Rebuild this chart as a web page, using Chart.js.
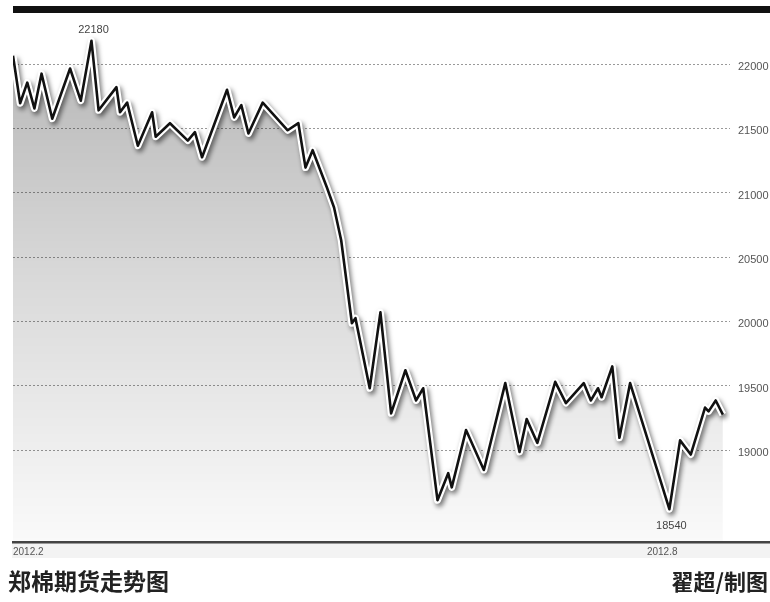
<!DOCTYPE html>
<html>
<head>
<meta charset="utf-8">
<script src="https://cdn.jsdelivr.net/npm/chart.js@4.4.1/dist/chart.umd.min.js"></script>
<style>
  html, body { margin: 0; padding: 0; background: #fff; }
  #wrap { position: relative; width: 770px; height: 602px; overflow: hidden; }
  #chart { position: absolute; left: 0; top: 0; }
  .caption { position: absolute; top: 566px; font-family: "Noto Sans CJK SC", sans-serif; font-weight: 700; color: #222; line-height: 28px; }
</style>
</head>
<body>
<div id="wrap">
  <canvas id="chart" width="770" height="602"></canvas>
  <div class="caption" style="left:8px; font-size:23px">郑棉期货走势图</div>
  <div class="caption" style="right:2px; font-size:22px">翟超/制图</div>
</div>
<script>
// calendar days since 2012-02-01
const days = [0, 2, 4, 6, 8, 11, 16, 19, 22, 24, 29, 30, 32, 35, 39, 40, 44, 49, 51, 53,
  60, 62, 64, 66, 70, 77, 80, 82, 84, 88, 90, 92, 95, 96, 100, 103, 106, 110, 113, 115,
  119, 122, 123, 127, 132, 138, 142, 144, 147, 152, 155, 160, 162, 164, 165, 168, 170, 173, 184, 187,
  190, 194, 195, 197, 199];
const prices = [22065, 21695, 21855, 21655, 21925, 21575, 21965, 21715, 22180, 21640,
  21820, 21625, 21700, 21365, 21625, 21435, 21540, 21405, 21470, 21275,
  21800, 21585, 21680, 21460, 21700, 21485, 21540, 21195, 21330, 21040,
  20885, 20630, 19985, 20025, 19480, 20070, 19285, 19620, 19385, 19480,
  18610, 18820, 18710, 19155, 18845, 19520, 18985, 19240, 19055, 19530,
  19365, 19520, 19385, 19480, 19410, 19650, 19095, 19520, 18540, 19075,
  18965, 19330, 19300, 19385, 19275];
const yTicks = [19000, 19500, 20000, 20500, 21000, 21500, 22000];
const xTickDays = [0, 182];
const xTickLabels = ['2012.2', '2012.8'];

const points = days.map((d, i) => ({ x: d, y: prices[i] }));

const lineShadowPlugin = {
  id: 'lineShadow',
  beforeDatasetDraw(chart, args) {
    const ds = chart.data.datasets[args.index];
    if (!ds.shadow) {
      return;
    }
    const ctx = chart.ctx;
    ctx.save();
    ctx.shadowColor = 'rgba(0, 0, 0, 0.55)';
    ctx.shadowBlur = 5;
    ctx.shadowOffsetX = 2;
    ctx.shadowOffsetY = 3;
  },
  afterDatasetDraw(chart, args) {
    if (chart.data.datasets[args.index].shadow) {
      chart.ctx.restore();
    }
  },
};

const framePlugin = {
  id: 'frame',
  beforeDraw(chart) {
    const ctx = chart.ctx;
    const area = chart.chartArea;
    ctx.save();
    // top black bar
    ctx.fillStyle = '#111';
    ctx.fillRect(area.left, 6, chart.width - area.left, 7);
    // faint band under the axis
    ctx.fillStyle = '#f3f3f3';
    ctx.fillRect(area.left - 1, area.bottom, chart.width - area.left + 1, 16);
    ctx.restore();
  },
  afterDraw(chart) {
    const ctx = chart.ctx;
    const area = chart.chartArea;
    const xScale = chart.scales.x;
    const yScale = chart.scales.y;
    ctx.save();
    // bottom axis line
    ctx.fillStyle = '#444';
    ctx.fillRect(area.left - 1, area.bottom - 1, chart.width - area.left + 1, 2);
    ctx.fillStyle = '#999';
    ctx.fillRect(area.left - 1, area.bottom + 1, chart.width - area.left + 1, 1);

    // x tick labels
    ctx.font = '10px "Liberation Sans", Arial, sans-serif';
    ctx.fillStyle = '#555';
    ctx.textBaseline = 'middle';
    xTickDays.forEach((d, i) => {
      ctx.textAlign = i === 0 ? 'left' : 'center';
      ctx.fillText(xTickLabels[i], xScale.getPixelForValue(d), area.bottom + 10);
    });

    // high / low labels
    const hi = prices.indexOf(Math.max(...prices));
    const lo = prices.indexOf(Math.min(...prices));
    ctx.font = '11px "Liberation Sans", Arial, sans-serif';
    ctx.fillStyle = '#444';
    ctx.textAlign = 'center';
    ctx.fillText(String(prices[hi]), xScale.getPixelForValue(days[hi]) + 2, yScale.getPixelForValue(prices[hi]) - 11);
    ctx.fillText(String(prices[lo]), xScale.getPixelForValue(days[lo]) + 2, yScale.getPixelForValue(prices[lo]) + 17);
    ctx.restore();
  },
};

function fillGradient(context) {
  const chart = context.chart;
  const area = chart.chartArea;
  if (!area) {
    return 'rgba(0,0,0,0.15)';
  }
  const g = chart.ctx.createLinearGradient(0, area.top, 0, area.bottom);
  g.addColorStop(0, 'rgba(0, 0, 0, 0.30)');
  g.addColorStop(0.5, 'rgba(0, 0, 0, 0.15)');
  g.addColorStop(1, 'rgba(0, 0, 0, 0.02)');
  return g;
}

new Chart(document.getElementById('chart').getContext('2d'), {
  type: 'line',
  data: {
    datasets: [
      {
        data: points,
        borderColor: '#111',
        borderWidth: 2.6,
        borderJoinStyle: 'round',
        pointRadius: 0,
        fill: false,
        order: 0,
      },
      {
        data: points,
        borderColor: '#fff',
        borderWidth: 7,
        borderJoinStyle: 'round',
        pointRadius: 0,
        fill: false,
        shadow: true,
        order: 1,
      },
      {
        data: points,
        borderWidth: 0,
        pointRadius: 0,
        fill: 'start',
        backgroundColor: fillGradient,
        order: 2,
      },
    ],
  },
  options: {
    responsive: false,
    animation: false,
    layout: { padding: { left: 13, top: 14, right: 0, bottom: 60 } },
    plugins: { legend: { display: false }, tooltip: { enabled: false } },
    scales: {
      x: {
        type: 'linear',
        display: false,
        min: 0,
        max: 201,
      },
      y: {
        position: 'right',
        min: 18285,
        max: 22384,
        afterBuildTicks(scale) {
          scale.ticks = yTicks.map((v) => ({ value: v }));
        },
        afterFit(scale) {
          scale.width = 40;
        },
        grid: { color: '#999', lineWidth: 1, drawTicks: false },
        border: { display: false, dash: [2, 2] },
        ticks: {
          padding: 8,
          labelOffset: 3,
          color: '#555',
          font: { family: '"Liberation Sans", Arial, sans-serif', size: 11 },
          callback: (v) => String(v),
        },
      },
    },
  },
  plugins: [lineShadowPlugin, framePlugin],
});
</script>
</body>
</html>
